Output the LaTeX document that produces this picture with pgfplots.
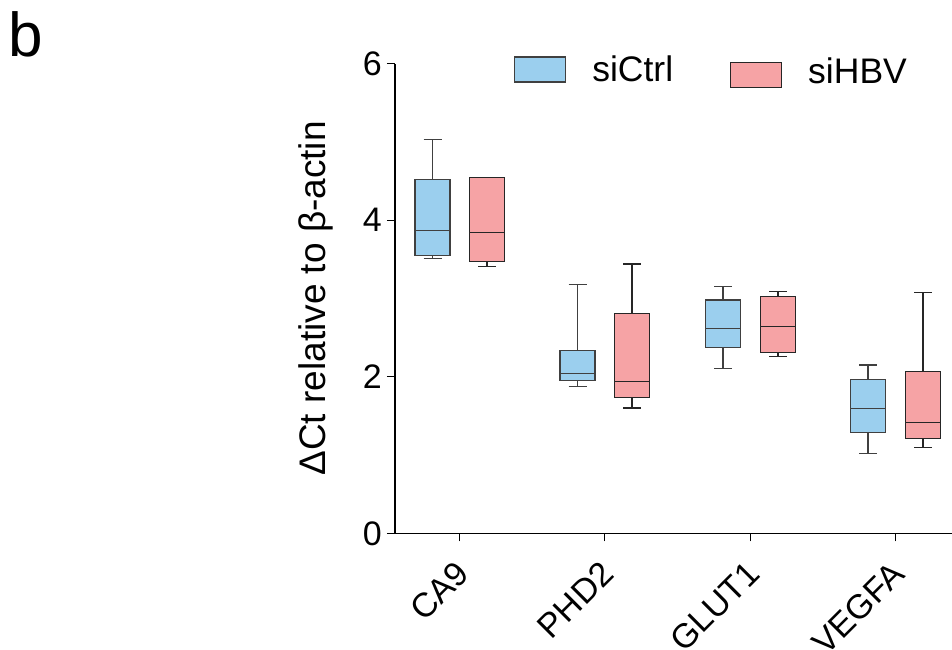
\documentclass[border=0pt]{standalone}
\usepackage{pgfplots}
\pgfplotsset{compat=1.18}
\usepgfplotslibrary{statistics}
\usepackage{fontspec}
\setmainfont{Liberation Sans}
\definecolor{ctrl}{RGB}{155,207,238}
\definecolor{hbv}{RGB}{246,163,165}
\newcommand{\tickf}{\fontsize{34}{40}\selectfont}
\newcommand{\legf}{\fontsize{35.5}{42}\selectfont}
\begin{document}
\begin{tikzpicture}
\useasboundingbox (-395pt,-115.7pt) rectangle (557pt,533.3pt);
\node[anchor=base west, inner sep=0pt, font=\fontsize{62}{70}\selectfont] at (-387pt,476.6pt) {b};
\begin{axis}[
  at={(0pt,0pt)}, anchor=south west,
  scale only axis, width=557pt, height=469.8pt,
  xmin=0, xmax=5.57, ymin=0, ymax=6,
  axis lines*=left,
  axis line style={line width=1.4pt, black},
  boxplot/draw direction=y,
  boxplot/box extend=0.35, boxplot/whisker extend=0.18,
  xtick={0.6475,2.0975,3.555,5.005},
  xticklabels={CA9,PHD2,GLUT1,VEGFA},
  ytick={0,2,4,6},
  yticklabels={0,2,4,6},
  tick align=outside, major tick length=8pt,
  tick style={black, line width=1.2pt},
  /pgf/number format/assume math mode=true,
  ticklabel style={font=\tickf},
  xticklabel style={rotate=45, anchor=north east, inner sep=0pt, xshift=-8pt},
  yticklabel style={inner sep=0pt},
  yticklabel shift=5pt,
  xticklabel shift=12pt,
  ylabel={ΔCt relative to β-actin},
  ylabel style={font=\fontsize{37}{42}\selectfont, at={(axis description cs:-0.1113,0.5)}, anchor=south, inner sep=0pt},
  legend columns=2,
  legend style={at={(axis cs:1.16,5.89)}, anchor=west, draw=none, fill=none,
    font=\legf, nodes={inner sep=0pt},
    /tikz/every odd column/.append style={column sep=26pt},
    /tikz/every even column/.append style={column sep=57pt}},
  legend cell align=left,
]
\addlegendimage{legend image code/.code={\draw[fill=ctrl,draw=black!75,line width=1.1pt] (0pt,-12.5pt) rectangle (51pt,12.5pt);}}
\addlegendentry{siCtrl}
\addlegendimage{legend image code/.code={\draw[fill=hbv,draw=black!85,line width=1.1pt] (0pt,-18.3pt) rectangle (51pt,6.7pt);}}
\addlegendentry{\raisebox{-3.6pt}{siHBV}}

% CA9
\addplot[fill=ctrl, draw=black!75, line width=1.1pt, boxplot prepared={draw position=0.375, lower whisker=3.51, lower quartile=3.55, median=3.87, upper quartile=4.52, upper whisker=5.03}] coordinates {};
\addplot[fill=hbv, draw=black!85, line width=1.1pt, boxplot prepared={draw position=0.92, lower whisker=3.41, lower quartile=3.47, median=3.84, upper quartile=4.54, upper whisker=4.54}] coordinates {};
% PHD2
\addplot[fill=ctrl, draw=black!75, line width=1.1pt, boxplot prepared={draw position=1.825, lower whisker=1.87, lower quartile=1.95, median=2.04, upper quartile=2.34, upper whisker=3.18}] coordinates {};
\addplot[fill=hbv, draw=black!85, line width=1.1pt, boxplot prepared={draw position=2.37, lower whisker=1.60, lower quartile=1.73, median=1.94, upper quartile=2.81, upper whisker=3.44}] coordinates {};
% GLUT1
\addplot[fill=ctrl, draw=black!75, line width=1.1pt, boxplot prepared={draw position=3.28, lower whisker=2.11, lower quartile=2.37, median=2.61, upper quartile=2.98, upper whisker=3.15}] coordinates {};
\addplot[fill=hbv, draw=black!85, line width=1.1pt, boxplot prepared={draw position=3.83, lower whisker=2.26, lower quartile=2.31, median=2.64, upper quartile=3.02, upper whisker=3.09}] coordinates {};
% VEGFA
\addplot[fill=ctrl, draw=black!75, line width=1.1pt, boxplot prepared={draw position=4.73, lower whisker=1.02, lower quartile=1.29, median=1.59, upper quartile=1.96, upper whisker=2.15}] coordinates {};
\addplot[fill=hbv, draw=black!85, line width=1.1pt, boxplot prepared={draw position=5.28, lower whisker=1.10, lower quartile=1.21, median=1.41, upper quartile=2.07, upper whisker=3.07}] coordinates {};
\end{axis}
\end{tikzpicture}
\end{document}
